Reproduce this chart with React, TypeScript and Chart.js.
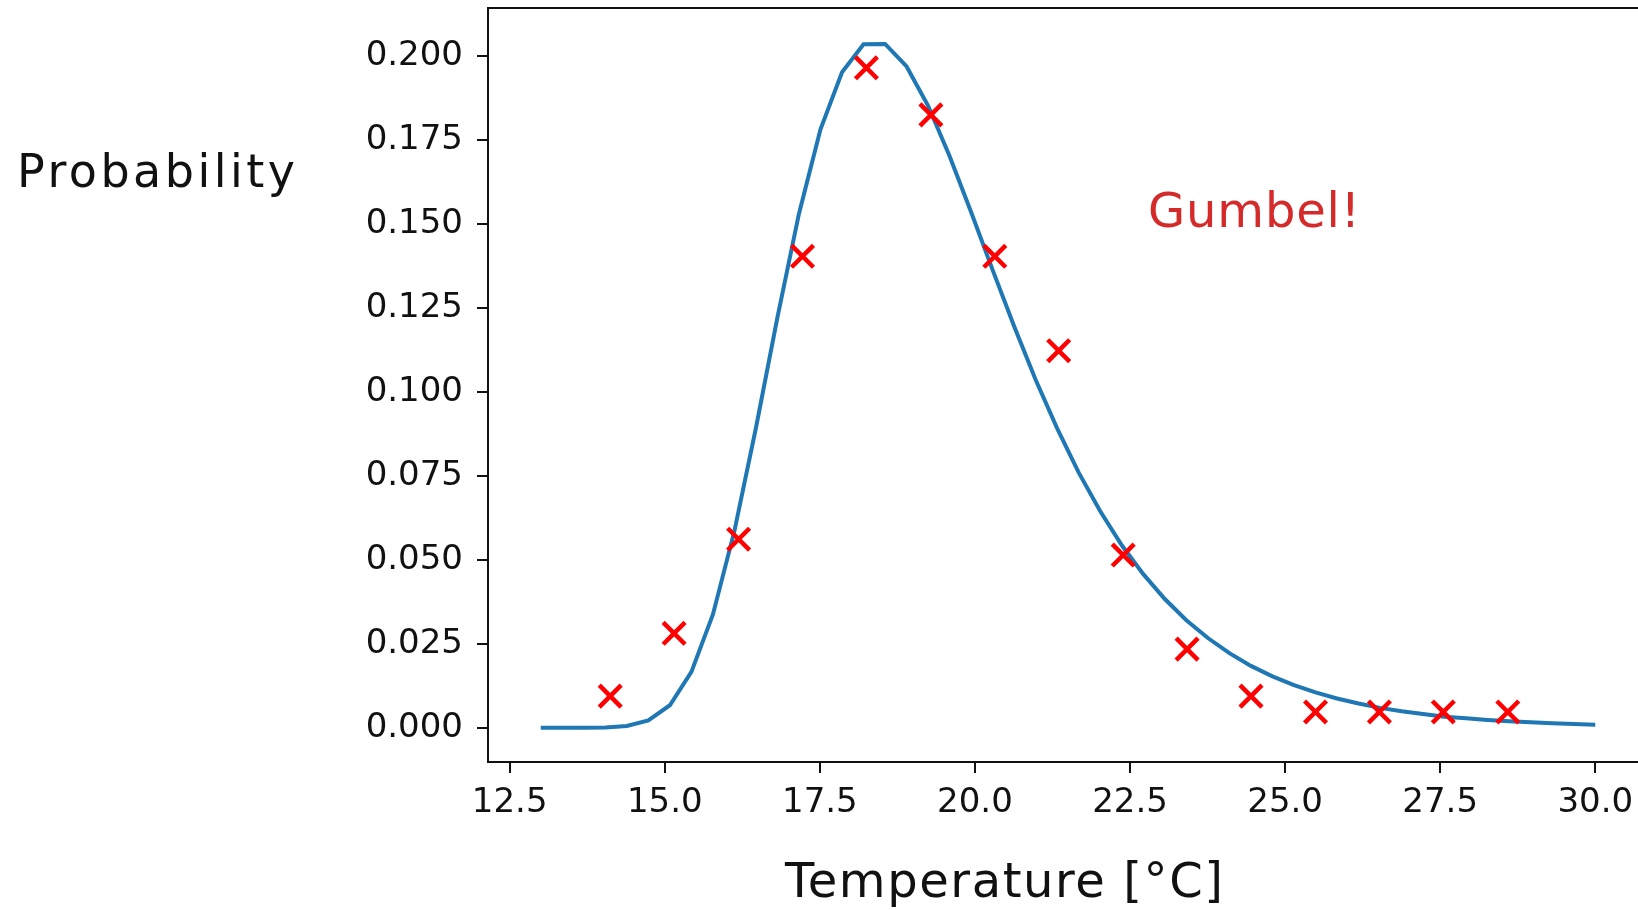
import React, { useEffect, useRef } from 'react';
import { Chart, registerables } from 'chart.js';

Chart.register(...registerables);

// Fitted curve (sampled temperatures and probability density)
const curveX = [
  13.0, 13.347, 13.694, 14.041, 14.388, 14.735, 15.082, 15.429, 15.776, 16.122,
  16.469, 16.816, 17.163, 17.51, 17.857, 18.204, 18.551, 18.898, 19.245, 19.592,
  19.939, 20.286, 20.633, 20.98, 21.327, 21.673, 22.02, 22.367, 22.714, 23.061,
  23.408, 23.755, 24.102, 24.449, 24.796, 25.143, 25.49, 25.837, 26.184, 26.531,
  26.878, 27.224, 27.571, 27.918, 28.265, 28.612, 28.959, 29.306, 29.653, 30.0,
];
const curveY = [
  0.0, 0.0, 0.0, 0.0001, 0.0005, 0.0022, 0.0067, 0.0166, 0.0337, 0.0585,
  0.0892, 0.1221, 0.153, 0.1781, 0.1951, 0.2034, 0.2035, 0.1968, 0.1851, 0.1701,
  0.1534, 0.1362, 0.1194, 0.1035, 0.089, 0.0759, 0.0644, 0.0543, 0.0457, 0.0383,
  0.032, 0.0267, 0.0222, 0.0184, 0.0153, 0.0127, 0.0105, 0.0087, 0.0072, 0.0059,
  0.0049, 0.0041, 0.0033, 0.0028, 0.0023, 0.0019, 0.0016, 0.0013, 0.0011, 0.0009,
];

// Observed histogram points (bin centres and densities)
const histX = [
  14.12, 15.15, 16.19, 17.22, 18.25, 19.29, 20.32, 21.35, 22.39, 23.42,
  24.45, 25.49, 26.52, 27.55, 28.59,
];
const histY = [
  0.0094, 0.0281, 0.0561, 0.1403, 0.1964, 0.1824, 0.1403, 0.1122, 0.0514, 0.0234,
  0.0094, 0.0047, 0.0047, 0.0047, 0.0047,
];

const xTicks = [12.5, 15.0, 17.5, 20.0, 22.5, 25.0, 27.5, 30.0];
const yTicks = [0.0, 0.025, 0.05, 0.075, 0.1, 0.125, 0.15, 0.175, 0.2];

const yLabel = 'Probability';
const xLabel = 'Temperature [°C]';
const noteText = 'Gumbel!';
const noteX = 22.79;
const noteY = 0.149;

function drawSpaced(
  ctx: CanvasRenderingContext2D,
  text: string,
  x: number,
  y: number,
  target: number,
  font: string,
  color: string
) {
  ctx.save();
  ctx.font = font;
  (ctx as any).letterSpacing = '0px';
  const w0 = ctx.measureText(text).width;
  const n = Array.from(text).length;
  const sp = n > 1 ? (target - w0) / (n - 1) : 0;
  (ctx as any).letterSpacing = sp + 'px';
  ctx.fillStyle = color;
  ctx.textAlign = 'left';
  ctx.textBaseline = 'alphabetic';
  ctx.fillText(text, x, y);
  ctx.restore();
}

const overlayPlugin = {
  id: 'overlay',
  afterDraw(chart: any) {
    const { ctx, chartArea, scales } = chart;
    ctx.save();
    ctx.strokeStyle = '#111';
    ctx.lineWidth = 2;
    ctx.beginPath();
    ctx.moveTo(chartArea.left, chartArea.top);
    ctx.lineTo(chartArea.right, chartArea.top);
    ctx.lineTo(chartArea.right, chartArea.bottom);
    ctx.stroke();
    ctx.restore();

    drawSpaced(ctx, yLabel, 17, 187, 278, '46px "DejaVu Sans"', '#111');
    drawSpaced(ctx, xLabel, 785, 897, 438, '48px "DejaVu Sans"', '#111');
    const nx = scales.x.getPixelForValue(noteX);
    const ny = scales.y.getPixelForValue(noteY);
    drawSpaced(ctx, noteText, nx, ny, 212, '48px "DejaVu Sans"', '#d42a2a');
  },
};

export default function App() {
  const ref = useRef<HTMLCanvasElement | null>(null);

  useEffect(() => {
    if (!ref.current) return;
    const chart = new Chart(ref.current, {
      type: 'scatter',
      data: {
        datasets: [
          {
            label: 'observed',
            data: histX.map((x, i) => ({ x, y: histY[i] })),
            pointStyle: 'crossRot',
            pointRadius: 15.5,
            pointHoverRadius: 15.5,
            borderColor: '#ff0000',
            backgroundColor: '#ff0000',
            borderWidth: 4.5,
            pointBorderWidth: 4.5,
            showLine: false,
          } as any,
          {
            label: 'fit',
            data: curveX.map((x, i) => ({ x, y: curveY[i] })),
            showLine: true,
            borderColor: '#1f77b4',
            backgroundColor: '#1f77b4',
            borderWidth: 4,
            pointRadius: 0,
            pointHoverRadius: 0,
            tension: 0,
            fill: false,
          } as any,
        ],
      },
      options: {
        responsive: false,
        animation: false,
        devicePixelRatio: 1,
        events: [],
        layout: { autoPadding: false, padding: { left: 0, top: 8, right: 12, bottom: 0 } },
        plugins: {
          legend: { display: false },
          tooltip: { enabled: false },
        },
        scales: {
          x: {
            type: 'linear',
            min: 12.15,
            max: 30.85,
            afterBuildTicks: (s: any) => {
              s.ticks = xTicks.map((v) => ({ value: v }));
            },
            afterFit: (s: any) => {
              s.height = 148;
              s.paddingLeft = 0;
              s.paddingRight = 0;
            },
            grid: {
              drawOnChartArea: false,
              drawTicks: true,
              tickLength: 11,
              color: '#111',
              lineWidth: 2,
            },
            border: { display: true, color: '#111', width: 2 },
            ticks: {
              font: { family: 'DejaVu Sans', size: 34 },
              color: '#111',
              padding: 10,
              maxRotation: 0,
              autoSkip: false,
              callback: (v: any) => Number(v).toFixed(1),
            },
          },
          y: {
            type: 'linear',
            min: -0.0102,
            max: 0.2142,
            afterBuildTicks: (s: any) => {
              s.ticks = yTicks.map((v) => ({ value: v }));
            },
            afterFit: (s: any) => {
              s.width = 488;
              s.paddingTop = 0;
              s.paddingBottom = 0;
            },
            grid: {
              drawOnChartArea: false,
              drawTicks: true,
              tickLength: 11,
              color: '#111',
              lineWidth: 2,
            },
            border: { display: true, color: '#111', width: 2 },
            ticks: {
              font: { family: 'DejaVu Sans', size: 34 },
              color: '#111',
              padding: 14,
              autoSkip: false,
              callback: (v: any) => Number(v).toFixed(3),
            },
          },
        },
      } as any,
      plugins: [overlayPlugin],
    });
    return () => chart.destroy();
  }, []);

  return (
    <div
      style={{
        position: 'fixed',
        left: 0,
        top: 0,
        width: 1638,
        height: 910,
        overflow: 'hidden',
        background: '#fff',
      }}
    >
      <canvas ref={ref} width={1660} height={910} style={{ display: 'block' }} />
    </div>
  );
}
